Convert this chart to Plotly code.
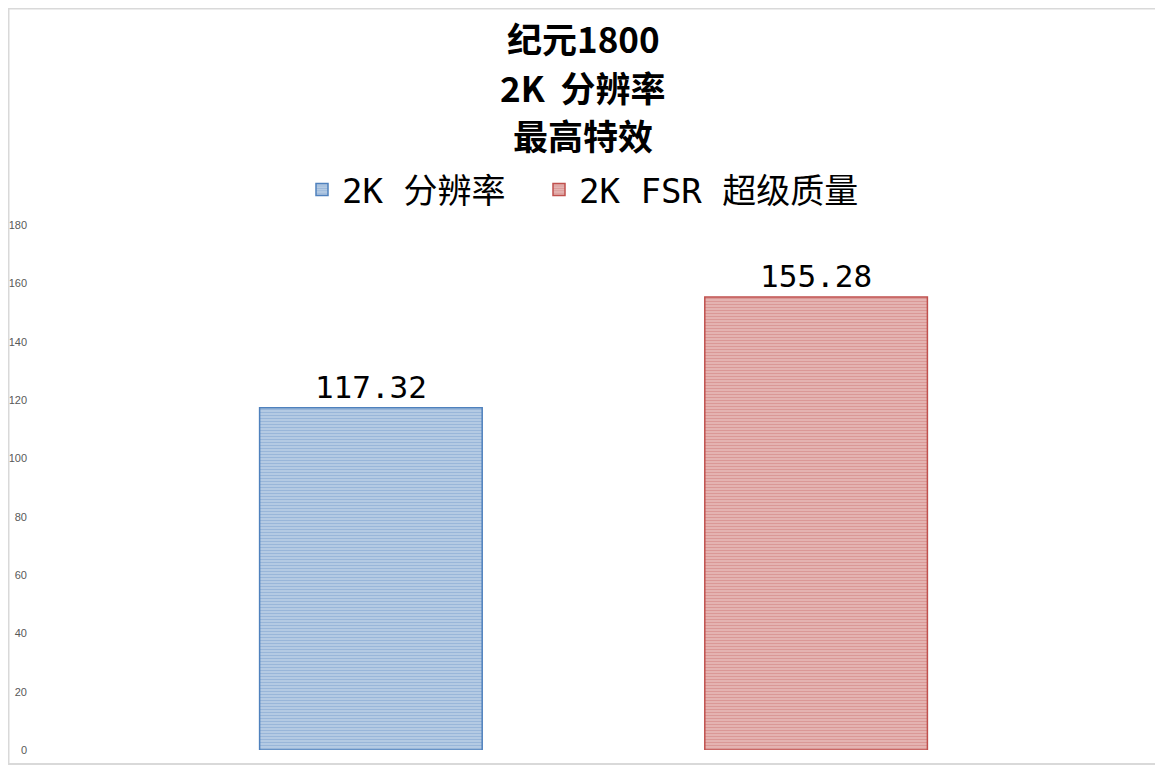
import plotly.graph_objects as go

# 数据
categories = [""]
series_names = ["2K 分辨率", "2K FSR 超级质量"]
series_values = [[117.32], [155.28]]
series_colors = ["#4F81BD", "#C0504D"]
series_gap = ["#e2eaf5", "#f5e0df"]
title_lines = ["纪元1800", "2K&nbsp;&nbsp;分辨率", "最高特效"]
y_ticks = [0, 20, 40, 60, 80, 100, 120, 140, 160, 180]

cjk_font = "Noto Sans CJK SC"
mono_font = "DejaVu Sans Mono, Noto Sans CJK SC"

# 页面本身有约 8px 的边距，这里把图缩小相应尺寸
off = 8
W, H = 1155, 758
ml, mr, mt, mb = 29, 13, 217, 16
pw, ph = W - ml - mr, H - mt - mb


def px_x(x):
    return (x - off - ml) / pw


def px_y(y):
    return 1 + (225 - y) / ph


legend_ids = ["legend", "legend2"]
legend_left = [302, 539]

fig = go.Figure()
for name, vals, col, gap, lg in zip(series_names, series_values, series_colors, series_gap, legend_ids):
    fig.add_trace(go.Bar(
        x=categories, y=vals, name=name, legend=lg,
        text=[f"{v:.2f}" for v in vals],
        textposition="outside",
        textfont=dict(family=mono_font, size=31, color="black"),
        cliponaxis=False,
        marker=dict(
            color=gap,
            line=dict(color=col, width=1.5),
            pattern=dict(shape="-", fgcolor=col, bgcolor=gap, size=3, solidity=0.75),
        ),
    ))

# 标题三行（页面坐标）
title_y = [37, 86, 134]
for txt, yy in zip(title_lines, title_y):
    fig.add_annotation(
        text=f"<b>{txt}</b>", xref="paper", yref="paper",
        x=px_x(583), y=px_y(yy),
        showarrow=False, font=dict(family=cjk_font, size=35, color="black"),
        xanchor="center", yanchor="middle",
    )

legend_style = dict(
    orientation="h", xanchor="left", y=px_y(190), yanchor="middle",
    font=dict(family=mono_font, size=34, color="black"),
    itemwidth=30, bgcolor="rgba(0,0,0,0)",
)

fig.update_layout(
    width=W, height=H,
    margin=dict(l=ml, r=mr, t=mt, b=mb),
    paper_bgcolor="white", plot_bgcolor="white",
    barmode="group", bargap=0.2, bargroupgap=0.5,
    showlegend=True,
    legend=dict(x=px_x(legend_left[0]), **legend_style),
    legend2=dict(x=px_x(legend_left[1]), **legend_style),
    xaxis=dict(showticklabels=False, showline=False, showgrid=False, zeroline=False),
    yaxis=dict(
        range=[0, 180], tickvals=y_ticks, showgrid=False, zeroline=False, showline=False,
        tickfont=dict(family="Liberation Sans", size=11, color="#595959"),
        ticks="", ticklen=0, ticklabelstandoff=9, automargin=False,
    ),
    shapes=[dict(type="rect", xref="paper", yref="paper",
                 x0=-ml / pw + 0.5 / pw, x1=1 + (mr - 2) / pw,
                 y0=-(mb - 2) / ph, y1=1 + (mt - 0.5) / ph,
                 line=dict(color="#d9d9d9", width=2))],
)

fig.write_html("out.html")
